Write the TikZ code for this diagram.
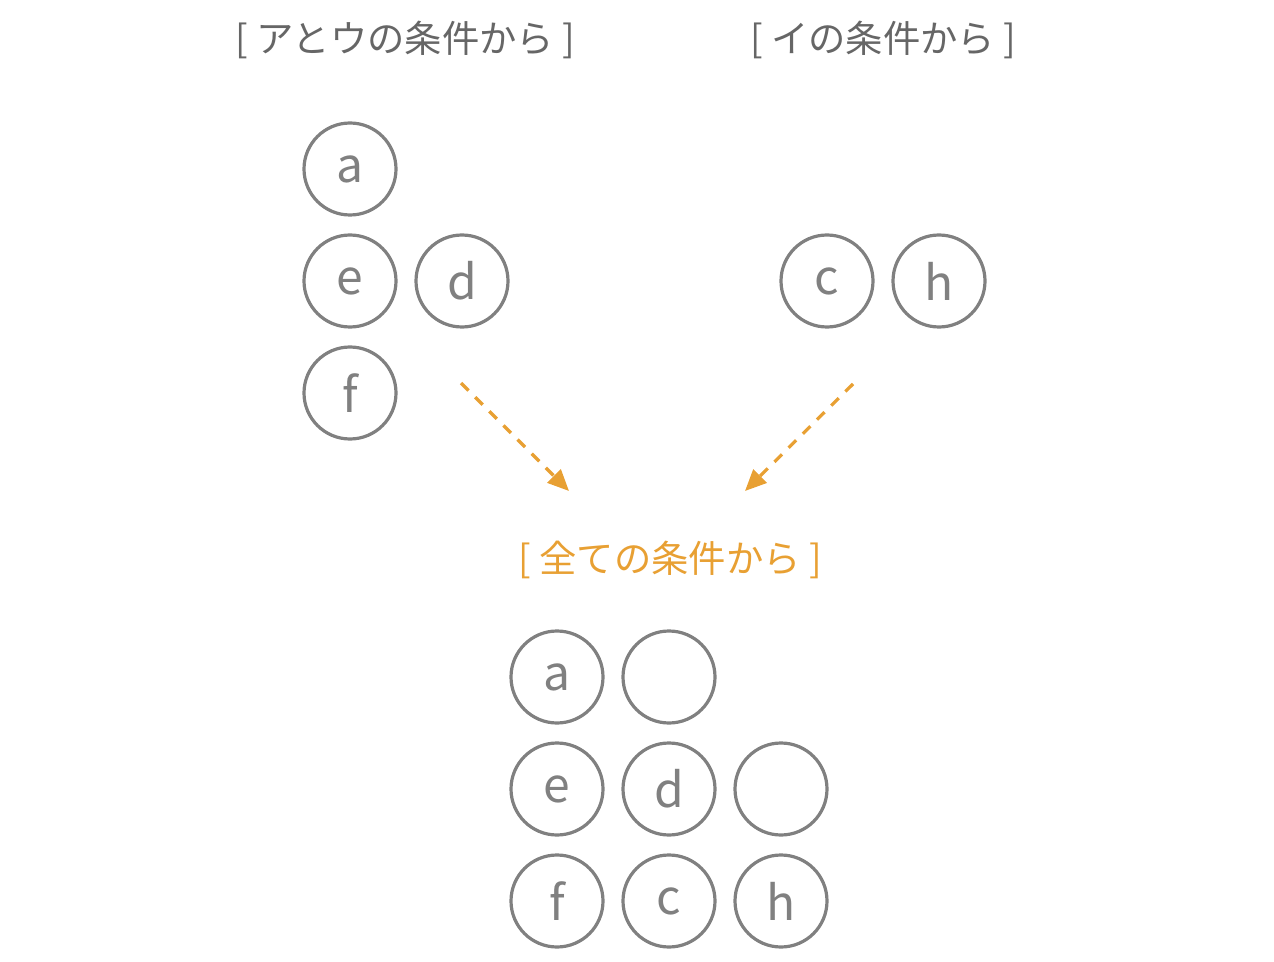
\documentclass[tikz,border=0pt]{standalone}
\usepackage{fontspec}
\setmainfont{Noto Sans CJK JP}
\usetikzlibrary{arrows.meta}
\definecolor{cg}{HTML}{808080}
\definecolor{tg}{HTML}{666666}
\definecolor{or}{HTML}{E8A033}
\begin{document}
\begin{tikzpicture}[x=0.75pt,y=-0.75pt,
  ball/.style={circle,draw=cg,line width=2.4pt,minimum size=69pt,inner sep=0pt,text=cg,font=\fontsize{36}{36}\selectfont},
  ttl/.style={font=\fontsize{28}{28}\selectfont,text=tg},
  arr/.style={draw=or,line width=2.4pt,dash pattern=on 8pt off 7pt,-{Triangle[length=16pt,width=14pt]}}]
\useasboundingbox (0,0) rectangle (1274,962);
\node[ttl] (t1) at (405,40) {[ アとウの条件から ]};
\node[ttl] (t2) at (883,40) {[ イの条件から ]};
\node[ttl,text=or] (t3) at (670,560) {[ 全ての条件から ]};
\node[ball] (a) at (350,169) {a};
\node[ball] (e) at (350,281) {e};
\node[ball] (d) at (462,281) {d};
\node[ball] (f) at (350,393) {f};
\node[ball] (c) at (827,281) {c};
\node[ball] (h) at (939,281) {h};
\node[ball] (ba) at (557,677) {a};
\node[ball] (b2) at (669,677) {};
\node[ball] (be) at (557,789) {e};
\node[ball] (bd) at (669,789) {d};
\node[ball] (b3) at (781,789) {};
\node[ball] (bf) at (557,901) {f};
\node[ball] (bc) at (669,901) {c};
\node[ball] (bh) at (781,901) {h};
\coordinate (s1) at (461,383); \coordinate (e1) at (569,491);
\coordinate (s2) at (853,384); \coordinate (e2) at (745,491);
\draw[arr] (s1) -- (e1);
\draw[arr] (s2) -- (e2);
\end{tikzpicture}
\end{document}
